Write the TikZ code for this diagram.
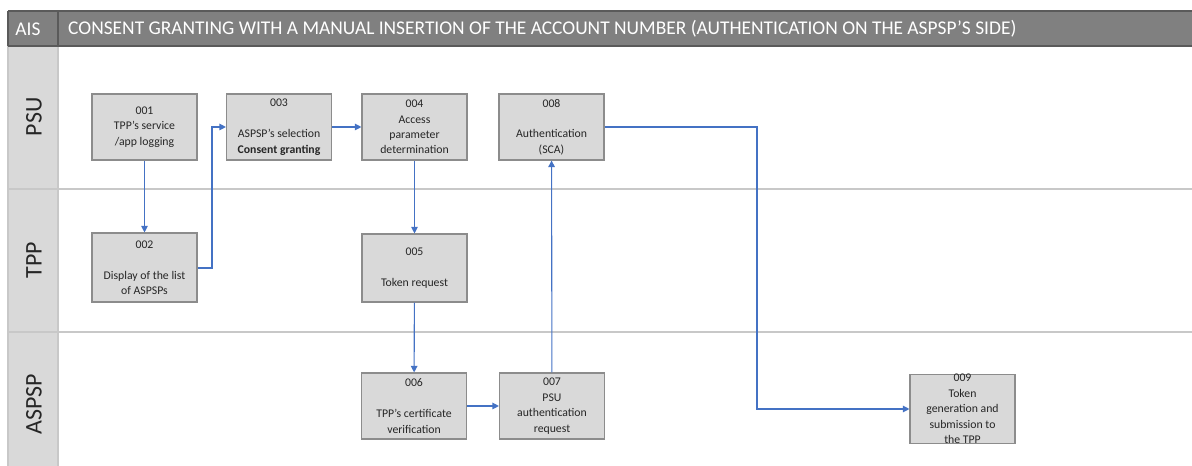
\documentclass[tikz,border=0pt]{standalone}
\usepackage{fontspec}
\setmainfont{Carlito}
\usetikzlibrary{arrows.meta}
\definecolor{hdrfill}{HTML}{808080}
\definecolor{hdrline}{HTML}{5A5A5A}
\definecolor{lanefill}{HTML}{D9D9D9}
\definecolor{laneline}{HTML}{C8C8C8}
\definecolor{boxline}{HTML}{8C8C8C}
\definecolor{flow}{HTML}{4472C4}
\definecolor{ink}{HTML}{262626}
\tikzset{
  box/.style={draw=boxline, fill=lanefill, line width=1.1bp, rectangle,
    minimum width=105bp, minimum height=66bp, inner sep=0pt, align=center,
    text=ink, font=\fontsize{11.8}{15.5}\selectfont},
  flowarrow/.style={draw=flow, line width=1.1bp, -{Triangle[length=6.5bp,width=6.5bp]}},
  lanelabel/.style={rotate=90, text=ink, font=\fontsize{24}{28}\selectfont},
  hdrtext/.style={text=white, font=\fontsize{19.5}{22}\selectfont, inner sep=0pt},
}
\begin{document}
\begin{tikzpicture}[x=1bp, y=-1bp]
\useasboundingbox (0,0) rectangle (1192,466);
% lane label column and lane separators
\fill[lanefill] (8,46) rectangle (58,466);
\draw[laneline, line width=1.2bp] (8,46) -- (8,466);
\draw[laneline, line width=1.2bp] (58,46) -- (58,466);
\draw[laneline, line width=1.5bp] (8,189) -- (1192,189);
\draw[laneline, line width=1.5bp] (8,332) -- (1192,332);
% title bar
\fill[hdrfill] (8,11) rectangle (1192,46);
\draw[hdrline, line width=1.2bp] (8,11) -- (1192,11);
\draw[hdrline, line width=1.2bp] (8,46) -- (1192,46);
\draw[hdrline, line width=1.2bp] (8,11) -- (8,46);
\draw[hdrline, line width=1.2bp] (58,11) -- (58,46);
\node[hdrtext] (ais) at (28,29) {AIS};
\node[hdrtext, anchor=west] (title) at (68,29) {CONSENT GRANTING WITH A MANUAL INSERTION OF THE ACCOUNT NUMBER (AUTHENTICATION ON THE ASPSP’S SIDE)};
% lane names
\node[lanelabel] (psu) at (34,117) {PSU};
\node[lanelabel] (tpp) at (34,260) {TPP};
\node[lanelabel] (aspsp) at (34,404) {ASPSP};
% process steps
\node[box] (b001) at (144.5,127) {001\\TPP’s service\\/app logging};
\node[box, minimum height=69bp] (b002) at (144.5,267.5) {002\\[15.5bp]Display of the list\\of ASPSPs};
\node[box] (b003) at (279,127) {003\\[15.5bp]ASPSP’s selection\\\textbf{Consent granting}};
\node[box] (b004) at (414.5,127) {004\\Access\\parameter\\determination};
\node[box] (b008) at (551.5,127) {008\\[15.5bp]Authentication\\(SCA)};
\node[box, minimum height=68bp] (b005) at (414.5,268) {005\\[15.5bp]Token request};
\node[box] (b006) at (414,406) {006\\[15.5bp]TPP’s certificate\\verification};
\node[box] (b007) at (552,406) {007\\PSU\\authentication\\request};
\node[box] (b009) at (962.5,409) {009\\Token\\generation and\\submission to\\the TPP};
% flow
\coordinate (up003) at (212,268);
\coordinate (turn009) at (757,127);
\draw[flowarrow] (b001) -- (b002);
\draw[flowarrow] (b002.east |- up003) -- (up003) |- (b003.west);
\draw[flowarrow] (b003) -- (b004);
\draw[flowarrow] (b004) -- (b005);
\draw[flowarrow] (b005) -- (b006);
\draw[flowarrow] (b006) -- (b007);
\draw[flowarrow] (b007) -- (b008);
\draw[flowarrow] (b008.east) -- (turn009) |- (b009.west);
\end{tikzpicture}
\end{document}
